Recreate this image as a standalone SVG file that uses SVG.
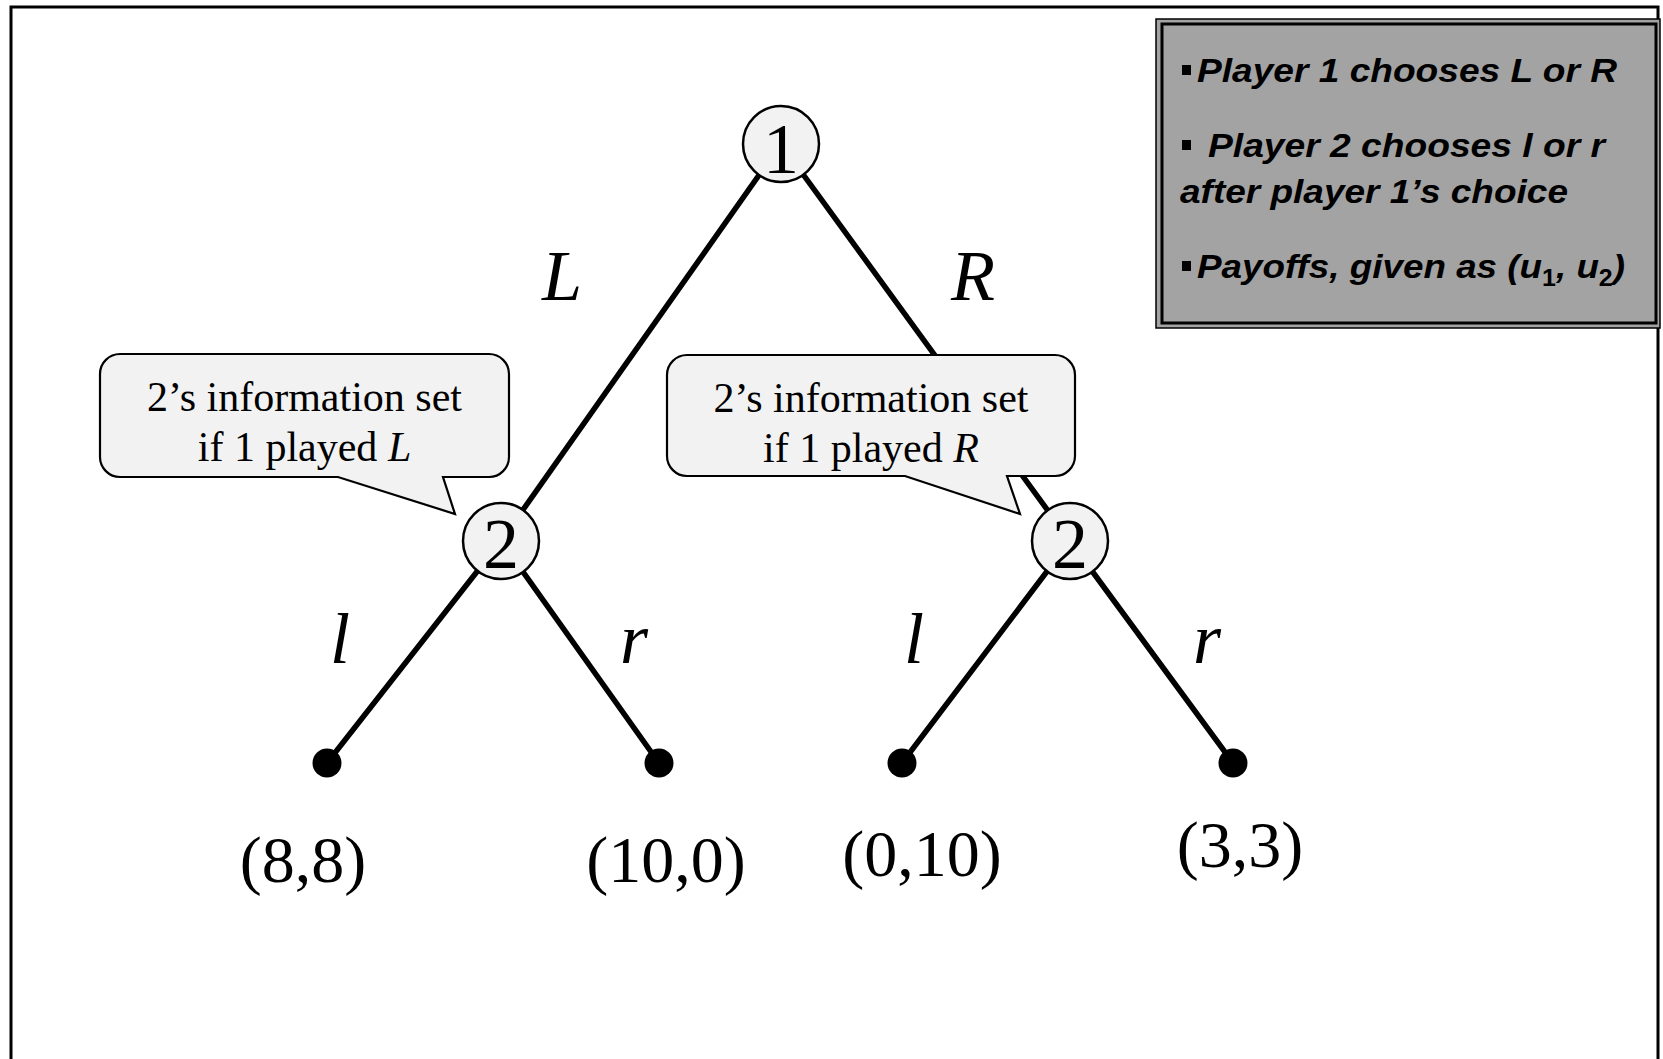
<svg xmlns="http://www.w3.org/2000/svg" width="1663" height="1059" viewBox="0 0 1663 1059">
<style>
.edge{stroke:#000;stroke-width:5.5;stroke-linecap:round;fill:none}
.dec{fill:#f2f2f2;stroke:#000;stroke-width:2.5}
.leaf{fill:#000}
.num{font-family:"Liberation Serif","Times New Roman",serif;font-size:72px;text-anchor:middle;fill:#000}
.lab{font-family:"Liberation Serif","Times New Roman",serif;font-size:72px;font-style:italic;text-anchor:middle;fill:#000}
.pay{font-family:"Liberation Serif","Times New Roman",serif;font-size:66px;text-anchor:middle;fill:#000}
.call{fill:#f2f2f2;stroke:#000;stroke-width:2.2;stroke-linejoin:miter}
.ct{font-family:"Liberation Serif","Times New Roman",serif;font-size:42px;text-anchor:middle;fill:#000}
.info{font-family:"Liberation Sans",Arial,sans-serif;font-size:34px;font-weight:bold;font-style:italic;fill:#000}
</style>
<rect x="0" y="0" width="1663" height="1059" fill="#fff"/>
<rect id="frame" x="11" y="7" width="1647" height="1100" fill="none" stroke="#000" stroke-width="3"/>

<g id="connectors">
<line class="edge" x1="781" y1="144" x2="501" y2="541"/>
<line class="edge" x1="781" y1="144" x2="1070" y2="541"/>
<line class="edge" x1="501" y1="541" x2="327" y2="763"/>
<line class="edge" x1="501" y1="541" x2="659" y2="763"/>
<line class="edge" x1="1070" y1="541" x2="902" y2="763"/>
<line class="edge" x1="1070" y1="541" x2="1233" y2="763"/>
<text class="lab" x="562" y="300">L</text>
<text class="lab" x="973" y="300">R</text>
<text class="lab" x="340" y="663">l</text>
<text class="lab" x="634" y="663">r</text>
<text class="lab" x="914" y="663">l</text>
<text class="lab" x="1207" y="663">r</text>
</g>

<g id="callout-L">
<path class="call" d="M120,354 H489 A20,20 0 0 1 509,374 V457 A20,20 0 0 1 489,477 H443 L455,514 L338,477 H120 A20,20 0 0 1 100,457 V374 A20,20 0 0 1 120,354 Z"/>
<text class="ct" x="304.5" y="411">2’s information set</text>
<text class="ct" x="304.5" y="461">if 1 played <tspan font-style="italic">L</tspan></text>
</g>
<g id="callout-R">
<path class="call" d="M687,355 H1055 A20,20 0 0 1 1075,375 V456 A20,20 0 0 1 1055,476 H1007 L1020,514 L905,476 H687 A20,20 0 0 1 667,456 V375 A20,20 0 0 1 687,355 Z"/>
<text class="ct" x="871" y="412">2’s information set</text>
<text class="ct" x="871" y="462">if 1 played <tspan font-style="italic">R</tspan></text>
</g>

<g id="node-1">
<circle class="dec" cx="781" cy="144" r="38"/>
<text class="num" x="781" y="173">1</text>
</g>
<g id="node-2L">
<circle class="dec" cx="501" cy="541" r="38"/>
<text class="num" x="501" y="568">2</text>
</g>
<g id="node-2R">
<circle class="dec" cx="1070" cy="541" r="38"/>
<text class="num" x="1070" y="568">2</text>
</g>

<g id="leaf-ll">
<circle class="leaf" cx="327" cy="763" r="14.5"/>
<text class="pay" x="303" y="882">(8,8)</text>
</g>
<g id="leaf-lr">
<circle class="leaf" cx="659" cy="763" r="14.5"/>
<text class="pay" x="666" y="882">(10,0)</text>
</g>
<g id="leaf-rl">
<circle class="leaf" cx="902" cy="763" r="14.5"/>
<text class="pay" x="922" y="876">(0,10)</text>
</g>
<g id="leaf-rr">
<circle class="leaf" cx="1233" cy="763" r="14.5"/>
<text class="pay" x="1240" y="867">(3,3)</text>
</g>

<g id="info-box">
<rect x="1156" y="19" width="504" height="309" fill="#a3a3a3" stroke="#000" stroke-width="1.5"/>
<rect x="1162" y="24" width="494" height="299" fill="none" stroke="#000" stroke-width="3"/>
<rect x="1182" y="65" width="9" height="10" fill="#000"/>
<text class="info" x="1197" y="82" textLength="420" lengthAdjust="spacingAndGlyphs">Player 1 chooses L or R</text>
<rect x="1182" y="140" width="9" height="10" fill="#000"/>
<text class="info" x="1208" y="157" textLength="397" lengthAdjust="spacingAndGlyphs">Player 2 chooses l or r</text>
<text class="info" x="1180" y="203" textLength="388" lengthAdjust="spacingAndGlyphs">after player 1’s choice</text>
<rect x="1182" y="261" width="9" height="10" fill="#000"/>
<text class="info" x="1197" y="278" textLength="428" lengthAdjust="spacingAndGlyphs">Payoffs, given as (u<tspan font-size="23" dy="8" font-style="normal">1</tspan><tspan dy="-8">, u</tspan><tspan font-size="23" dy="8" font-style="normal">2</tspan><tspan dy="-8">)</tspan></text>
</g>
</svg>
